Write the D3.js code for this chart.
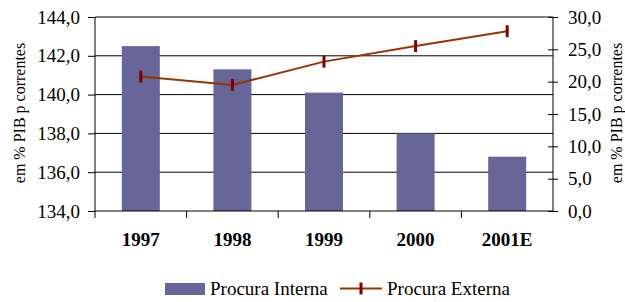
<!DOCTYPE html>
<html>
<head>
<meta charset="utf-8">
<script src="https://cdn.jsdelivr.net/npm/d3@7"></script>
<style>
  body { margin: 0; background: #fff; }
  text { font-family: "Liberation Serif", "Times New Roman", serif; fill: #000; }
</style>
</head>
<body>
<svg></svg>
<script>
const years = ["1997", "1998", "1999", "2000", "2001E"];
const procuraInterna = [142.5, 141.3, 140.1, 138.0, 136.8];
const procuraExterna = [20.8, 19.5, 23.1, 25.5, 27.8];
const leftTicks = [134, 136, 138, 140, 142, 144];
const rightTicks = [0, 5, 10, 15, 20, 25, 30];

let width = 625,
  height = 302;

let svg = d3.select("svg").attr("width", width).attr("height", height);

const plot = { left: 95, right: 553, top: 17, bottom: 211 };
const fmt = (v) => v.toFixed(1).replace(".", ",");

let x = d3
  .scaleBand()
  .domain(years)
  .range([plot.left, plot.right])
  .paddingInner(0.585)
  .paddingOuter(0.2925);

let xCat = d3.scaleBand().domain(years).range([plot.left, plot.right]);

let yLeft = d3.scaleLinear().domain([134, 144]).range([plot.bottom, plot.top]);
let yRight = d3.scaleLinear().domain([0, 30]).range([plot.bottom, plot.top]);

// gridlines
svg
  .append("g")
  .selectAll("line")
  .data(leftTicks.slice(1))
  .enter()
  .append("line")
  .attr("x1", plot.left)
  .attr("x2", plot.right)
  .attr("y1", (d) => yLeft(d))
  .attr("y2", (d) => yLeft(d))
  .attr("stroke", "#000")
  .attr("stroke-width", 1);

// bars
svg
  .append("g")
  .selectAll("rect")
  .data(procuraInterna)
  .enter()
  .append("rect")
  .attr("x", (d, i) => x(years[i]))
  .attr("width", x.bandwidth())
  .attr("y", (d) => yLeft(d))
  .attr("height", (d) => plot.bottom - yLeft(d))
  .attr("fill", "#666699");

// left axis
let gl = svg.append("g").attr("transform", `translate(${plot.left},0)`);
gl.call(d3.axisLeft(yLeft).tickValues(leftTicks).tickSize(7).tickPadding(8).tickFormat(fmt));
gl.select(".domain").attr("d", `M-0,${plot.top}V${plot.bottom + 7}`);

// right axis
let gr = svg.append("g").attr("transform", `translate(${plot.right},0)`);
gr.call(d3.axisRight(yRight).tickValues(rightTicks).tickSize(5).tickPadding(10).tickFormat(fmt));
gr.selectAll(".tick line").attr("x1", -5);
gr.select(".domain").attr("d", `M0,${plot.top}V${plot.bottom}`);

// x axis
let gx = svg.append("g").attr("transform", `translate(0,${plot.bottom})`);
gx.call(d3.axisBottom(xCat).tickSize(0).tickPadding(22));
gx.select(".domain").attr("d", `M${plot.left},0H${plot.right}`);
gx.selectAll(".tick text").attr("font-weight", "bold");
gx.append("g")
  .selectAll("line")
  .data(years.slice(1))
  .enter()
  .append("line")
  .attr("x1", (d) => xCat(d))
  .attr("x2", (d) => xCat(d))
  .attr("y1", 0)
  .attr("y2", 7)
  .attr("stroke", "#000");

svg.selectAll(".tick text").attr("font-size", 19).attr("font-family", "Liberation Serif").attr("fill", "#000");
svg.selectAll(".domain, .tick line").attr("stroke", "#000");

// line series
let line = d3
  .line()
  .x((d, i) => xCat(years[i]) + xCat.bandwidth() / 2)
  .y((d) => yRight(d));

svg
  .append("path")
  .datum(procuraExterna)
  .attr("d", line)
  .attr("fill", "none")
  .attr("stroke", "#993300")
  .attr("stroke-width", 2);

svg
  .append("g")
  .selectAll("line")
  .data(procuraExterna)
  .enter()
  .append("line")
  .attr("x1", (d, i) => xCat(years[i]) + xCat.bandwidth() / 2)
  .attr("x2", (d, i) => xCat(years[i]) + xCat.bandwidth() / 2)
  .attr("y1", (d) => yRight(d) - 6)
  .attr("y2", (d) => yRight(d) + 6)
  .attr("stroke", "#800000")
  .attr("stroke-width", 3);

// axis titles
svg
  .append("text")
  .attr("transform", `translate(25,113) rotate(-90)`)
  .attr("text-anchor", "middle")
  .attr("font-size", 16)
  .text("em % PIB p correntes");

svg
  .append("text")
  .attr("transform", `translate(622,113) rotate(-90)`)
  .attr("text-anchor", "middle")
  .attr("font-size", 16)
  .text("em % PIB p correntes");

// legend
let lg = svg.append("g");
lg.append("rect").attr("x", 165).attr("y", 283).attr("width", 40).attr("height", 12).attr("fill", "#666699");
lg.append("text").attr("x", 210).attr("y", 295).attr("font-size", 19).text("Procura Interna");
lg.append("line").attr("x1", 340).attr("x2", 382).attr("y1", 288.5).attr("y2", 288.5).attr("stroke", "#993300").attr("stroke-width", 2);
lg.append("line").attr("x1", 361).attr("x2", 361).attr("y1", 282.5).attr("y2", 294.5).attr("stroke", "#800000").attr("stroke-width", 3);
lg.append("text").attr("x", 387).attr("y", 295).attr("font-size", 19).text("Procura Externa");
</script>
</body>
</html>
